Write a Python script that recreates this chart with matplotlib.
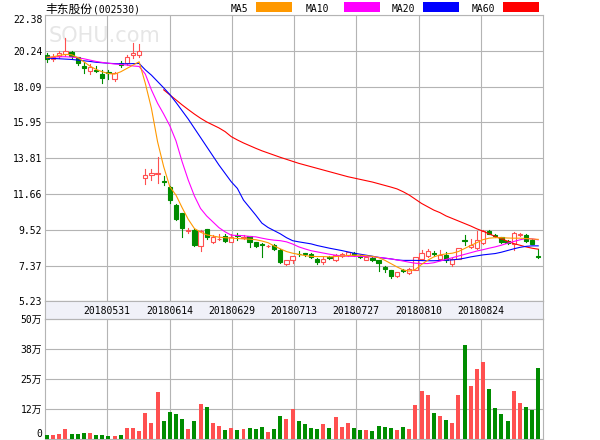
import matplotlib
matplotlib.use("Agg")
import matplotlib.pyplot as plt
from matplotlib.patches import Rectangle
import numpy as np

# ---- data (price in yuan, volume in 万) ----
opens = [19.98, 19.74, 19.9, 20.04, 20.16, 19.84, 19.32, 19.04, 19.1, 18.82,
         18.98, 18.52, 19.5, 19.5, 20.0, 20.0, 12.6, 12.78, 12.85, 12.45,
         12.08, 11.02, 10.53, 9.45, 9.53, 8.55, 9.55, 8.8, 8.98, 9.18,
         8.8, 9.22, 9.06, 9.13, 8.79, 8.7, 8.53, 8.6, 8.33, 7.45,
         7.73, 8.1, 8.12, 8.09, 7.79, 7.6, 7.92, 7.73, 7.95, 8.0,
         8.13, 7.94, 7.74, 7.85, 7.69, 7.29, 7.09, 6.74, 7.1, 6.93,
         7.13, 7.75, 7.95, 8.12, 7.79, 7.99, 7.49, 7.79, 8.9, 8.49,
         8.45, 8.73, 9.45, 9.23, 9.09, 8.88, 8.69, 9.19, 9.19, 8.93, 7.95]
closes = [19.74, 19.85, 20.08, 20.22, 19.92, 19.48, 19.2, 19.24, 19.05, 18.58,
          18.9, 18.88, 19.4, 19.88, 20.12, 20.24, 12.8, 12.92, 12.9, 12.4,
          11.3, 10.14, 9.6, 9.52, 8.6, 9.45, 9.1, 9.08, 9.0, 8.86,
          9.12, 9.18, 9.1, 8.8, 8.55, 8.6, 8.56, 8.4, 7.6, 7.69,
          7.93, 8.06, 8.06, 7.9, 7.6, 7.79, 7.82, 8.03, 8.09, 8.18,
          8.0, 7.88, 7.88, 7.7, 7.53, 7.15, 6.74, 6.99, 7.05, 7.19,
          7.89, 8.15, 8.25, 8.08, 8.03, 7.74, 7.79, 8.43, 8.88, 8.59,
          8.93, 9.45, 9.3, 9.14, 8.8, 8.72, 9.33, 9.29, 8.86, 8.7, 7.88]
highs = [20.08, 20.05, 20.22, 21.0, 20.2, 19.88, 19.58, 19.44, 19.3, 19.08,
         19.08, 18.98, 19.65, 19.98, 20.72, 20.64, 13.15, 13.19, 13.88, 12.72,
         12.13, 11.05, 10.55, 9.65, 9.55, 9.5, 9.57, 9.2, 9.29, 9.29,
         9.3, 9.33, 9.2, 9.15, 8.82, 8.72, 8.6, 8.68, 8.35, 7.72,
         7.97, 8.25, 8.15, 8.12, 7.82, 7.88, 7.95, 8.05, 8.12, 8.22,
         8.18, 8.0, 7.92, 7.88, 7.72, 7.33, 7.12, 7.0, 7.19, 7.22,
         7.92, 8.29, 8.39, 8.25, 8.29, 8.19, 7.82, 8.46, 9.19, 8.99,
         9.43, 9.53, 9.48, 9.3, 9.12, 8.92, 9.36, 9.32, 9.3, 8.95, 8.39]
lows = [19.58, 19.6, 19.78, 19.9, 19.8, 19.4, 18.88, 18.84, 18.95, 18.32,
        18.54, 18.4, 19.25, 19.38, 19.78, 19.85, 12.25, 12.48, 12.32, 12.18,
        11.1, 10.1, 9.1, 9.35, 8.55, 8.25, 8.97, 8.74, 8.89, 8.8,
        8.78, 8.93, 9.0, 8.49, 8.5, 7.9, 8.5, 8.3, 7.55, 7.42,
        7.53, 7.93, 7.98, 7.85, 7.49, 7.49, 7.78, 7.68, 7.9, 7.95,
        7.95, 7.82, 7.7, 7.65, 7.05, 7.0, 6.65, 6.72, 6.99, 6.9,
        7.1, 7.69, 7.89, 7.95, 7.73, 7.61, 7.35, 7.75, 8.59, 8.44,
        8.39, 8.69, 9.27, 9.1, 8.75, 8.65, 8.33, 9.15, 8.8, 8.65, 7.85]
volume = [1.7, 1.7, 2.1, 4.2, 2.1, 2.1, 2.5, 2.5, 1.7, 1.7,
          1.25, 1.25, 1.7, 4.6, 4.6, 3.3, 10.8, 6.7, 19.6, 7.5,
          11.25, 10.4, 8.3, 4.2, 7.5, 14.6, 13.3, 6.7, 5.4, 3.75,
          4.6, 3.75, 4.2, 4.6, 4.2, 5.0, 2.9, 4.2, 9.6, 8.3,
          12.5, 7.5, 6.25, 4.6, 4.2, 6.25, 4.6, 9.2, 5.0, 6.7,
          4.6, 3.75, 3.75, 3.3, 5.4, 5.0, 4.6, 3.75, 5.0, 4.2,
          14.2, 20.0, 18.3, 10.8, 9.6, 7.9, 6.7, 18.3, 39.2, 22.0,
          29.2, 32.1, 20.8, 12.9, 10.4, 7.5, 20.0, 15.0, 13.3, 12.1, 29.6]
ma5 = [19.82, 19.88, 19.96, 20.02, 20.0, 19.84, 19.58, 19.32, 19.12, 18.98,
       18.88, 18.84, 18.98, 19.18, 19.38, 19.58, 18.3, 16.8, 14.8, 13.3,
       12.1, 11.6, 10.85, 10.15, 9.6, 9.38, 9.22, 9.15, 9.08, 9.05,
       9.02, 9.0, 8.98, 8.96, 8.93, 8.85, 8.75, 8.55, 8.38, 8.22,
       8.12, 8.05, 7.98, 7.93, 7.92, 7.92, 7.9, 7.92, 7.95, 7.98,
       8.0, 8.0, 7.97, 7.93, 7.85, 7.7, 7.5, 7.3, 7.12, 7.05,
       7.15, 7.45, 7.7, 7.9, 8.02, 8.08, 8.12, 8.22, 8.4, 8.58,
       8.75, 8.93, 9.02, 9.05, 9.05, 9.03, 9.02, 9.02, 9.0, 8.97, 8.95]
ma10 = [19.85, 19.86, 19.88, 19.88, 19.86, 19.82, 19.76, 19.68, 19.6, 19.54,
        19.49, 19.45, 19.42, 19.38, 19.33, 19.3, 18.85, 17.9, 17.1, 16.45,
        15.75, 14.85, 13.6, 12.5, 11.55, 10.8, 10.35, 10.0, 9.65, 9.4,
        9.2, 9.18, 9.17, 9.12, 9.1, 9.02, 8.95, 8.9, 8.87, 8.8,
        8.67, 8.5, 8.38, 8.27, 8.2, 8.13, 8.06, 8.0, 7.96, 7.94,
        7.93, 7.93, 7.92, 7.9, 7.87, 7.83, 7.78, 7.72, 7.65, 7.58,
        7.52, 7.5, 7.5, 7.55, 7.65, 7.75, 7.85, 7.95, 8.05, 8.15,
        8.25, 8.33, 8.42, 8.5, 8.6, 8.72, 8.82, 8.92, 9.0, 8.98, 8.92]
ma20 = [19.8, 19.78, 19.76, 19.74, 19.72, 19.68, 19.64, 19.6, 19.55, 19.52,
        19.49, 19.47, 19.46, 19.46, 19.47, 19.48, 19.1, 18.78, 18.4, 18.02,
        17.62, 17.15, 16.65, 16.15, 15.6, 15.05, 14.5, 13.95, 13.4, 12.9,
        12.4, 12.0, 11.3, 10.85, 10.4, 9.92, 9.66, 9.47, 9.28, 9.05,
        8.87, 8.8, 8.74, 8.68, 8.58, 8.5, 8.42, 8.35, 8.28, 8.2,
        8.12, 8.06, 8.0, 7.94, 7.87, 7.82, 7.78, 7.72, 7.69, 7.69,
        7.69, 7.68, 7.67, 7.67, 7.68, 7.7, 7.72, 7.76, 7.82, 7.9,
        7.96, 8.02, 8.06, 8.1, 8.18, 8.28, 8.38, 8.47, 8.53, 8.56, 8.56]
ma60 = [np.nan] * 19 + [
        17.9, 17.6, 17.3, 17.0, 16.72, 16.45, 16.2, 15.98, 15.8, 15.62, 15.4,
        15.1, 14.9, 14.72, 14.56, 14.4, 14.25, 14.12, 13.99, 13.86, 13.74,
        13.62, 13.5, 13.4, 13.3, 13.2, 13.1, 13.0, 12.9, 12.8, 12.7,
        12.62, 12.54, 12.46, 12.38, 12.28, 12.18, 12.08, 11.97, 11.8, 11.6,
        11.35, 11.1, 10.9, 10.7, 10.55, 10.35, 10.2, 10.05, 9.9, 9.75,
        9.58, 9.44, 9.28, 9.12, 8.98, 8.84, 8.7, 8.6, 8.5, 8.42, 8.36]

price_ticks = [5.23, 7.37, 9.52, 11.66, 13.81, 15.95, 18.09, 20.24, 22.38]
vol_ticks = [0, 12.5, 25, 37.5, 50]
vol_labels = ["0", "12万", "25万", "38万", "50万"]
date_labels = ["20180531", "20180614", "20180629", "20180713",
               "20180727", "20180810", "20180824"]

RED = "#ff5050"
GREEN = "#008c00"
GRID = "#b4b4b4"
MONO = "DejaVu Sans Mono"
CJK = ["DejaVu Sans Mono", "Noto Sans CJK SC"]

n = len(closes)
x = np.arange(n)
xlim = (-0.33, 80.78)
grid_x = np.linspace(xlim[0], xlim[1], 9)[1:-1]

fig = plt.figure(figsize=(6, 4.4), dpi=100)
ax = fig.add_axes([0.075, 0.3148, 0.83, 0.6511])
band = fig.add_axes([0.075, 0.275, 0.83, 0.0398])
axv = fig.add_axes([0.075, 0.0023, 0.83, 0.2727])

for a in (ax, band, axv):
    a.set_xlim(*xlim)
    for s in a.spines.values():
        s.set_color(GRID)
        s.set_linewidth(0.8)

# main price panel
ax.set_ylim(price_ticks[0], price_ticks[-1])
ax.set_yticks(price_ticks)
ax.set_yticklabels(["%.2f" % t for t in price_ticks], fontfamily=MONO, fontsize=7)
ax.set_xticks(grid_x)
ax.set_xticklabels([])
ax.tick_params(length=0, pad=2)
ax.grid(True, color=GRID, linewidth=0.8)
ax.set_axisbelow(True)
ax.yaxis.get_major_ticks()[-1].label1.set_va("top")

# faint watermark
ax.text(0.2, 21.75, "SOHU.com", fontsize=15, color="#e6e6e6", va="top", zorder=0)

w = 0.7
for i in range(n):
    o, c, h, l = opens[i], closes[i], highs[i], lows[i]
    if c >= o:
        ax.plot([i, i], [c, h], color=RED, lw=0.8, zorder=3)
        ax.plot([i, i], [l, o], color=RED, lw=0.8, zorder=3)
        ax.add_patch(Rectangle((i - w / 2, o), w, max(c - o, 0.01), facecolor="white",
                               edgecolor=RED, lw=0.8, zorder=3))
    else:
        ax.plot([i, i], [l, h], color=GREEN, lw=0.8, zorder=3)
        ax.add_patch(Rectangle((i - w / 2, c), w, max(o - c, 0.01), facecolor=GREEN,
                               edgecolor=GREEN, lw=0.8, zorder=3))

ax.plot(x, ma60, color="#ff0000", lw=0.8, zorder=4)
ax.plot(x, ma20, color="#0000ff", lw=0.8, zorder=4)
ax.plot(x, ma10, color="#ff00ff", lw=0.8, zorder=4)
ax.plot(x, ma5, color="#ff9900", lw=0.8, zorder=4)

# date band
band.set_facecolor("#f0f1f8")
band.set_ylim(0, 1)
band.set_xticks([])
band.set_yticks([])
for gx, lab in zip(grid_x, date_labels):
    band.text(gx, 0.45, lab, ha="center", va="center", fontfamily=MONO, fontsize=7)

# volume panel
colors = [RED if closes[i] >= opens[i] else GREEN for i in range(n)]
axv.bar(x, volume, width=0.65, color=colors, zorder=3)
axv.set_ylim(0, 50)
axv.set_yticks(vol_ticks)
axv.set_yticklabels(vol_labels, fontsize=7)
for lab in axv.get_yticklabels():
    lab.set_fontfamily(CJK)
axv.set_xticks(grid_x)
axv.set_xticklabels([])
axv.tick_params(length=0, pad=2)
axv.grid(True, color=GRID, linewidth=0.8)
axv.set_axisbelow(True)
axv.yaxis.get_major_ticks()[0].label1.set_va("bottom")

# title and legend
t1 = fig.text(45 / 600, 1 - 9 / 440, "丰东股份", fontsize=8.5, va="center",
              fontfamily=["Noto Sans CJK SC", "DejaVu Sans"])
r = fig.canvas.get_renderer()
bb = t1.get_window_extent(renderer=r)
fig.text((bb.x1 + 1) / 600, 1 - 9 / 440, "(002530)", fontsize=7, va="center",
         fontfamily=MONO)
legend = [("MA5", 231, 256, "#ff9900"), ("MA10", 306, 344, "#ff00ff"),
          ("MA20", 392, 423, "#0000ff"), ("MA60", 472, 503, "#ff0000")]
for name, tx, rx, col in legend:
    fig.text(tx / 600, 1 - 8.5 / 440, name, fontsize=7, va="center", fontfamily=MONO)
    fig.patches.append(Rectangle((rx / 600, 1 - 11.7 / 440), 36 / 600, 9.7 / 440,
                                 transform=fig.transFigure, facecolor=col,
                                 edgecolor="none"))

fig.savefig("out.png", dpi=100)
